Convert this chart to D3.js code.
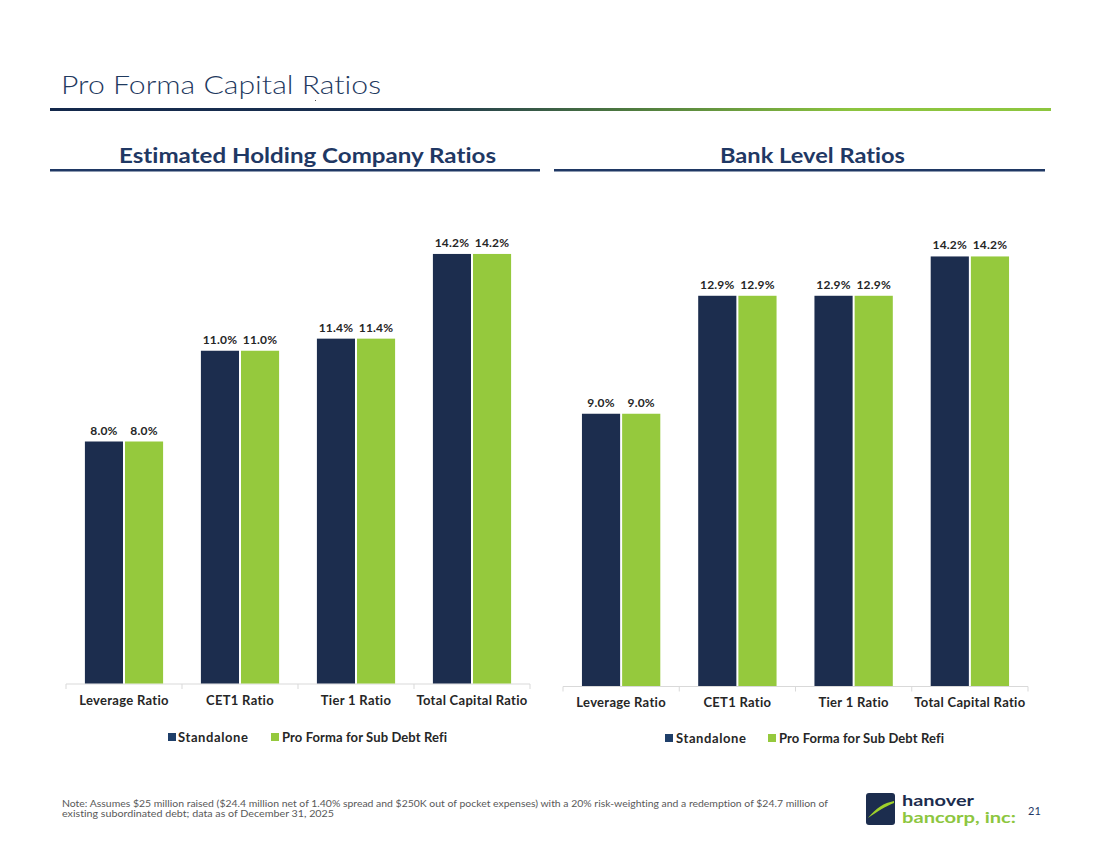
<!DOCTYPE html>
<html>
<head>
<meta charset="utf-8">
<script src="https://cdn.jsdelivr.net/npm/d3@7"></script>
<style>
  html, body { margin: 0; padding: 0; background: #ffffff; }
  svg { display: block; }
  text { font-family: Lato, "Open Sans", sans-serif; font-variant-ligatures: none; font-feature-settings: "liga" 0, "clig" 0; }
</style>
</head>
<body>
<svg id="chart" width="1100" height="849"></svg>
<script>
// ---------- data ----------
const categories = ["Leverage Ratio", "CET1 Ratio", "Tier 1 Ratio", "Total Capital Ratio"];
const seriesNames = ["Standalone", "Pro Forma for Sub Debt Refi"];
const holdingStandalone = [8.0, 11.0, 11.4, 14.2];
const holdingProForma = [8.0, 11.0, 11.4, 14.2];
const bankStandalone = [9.0, 12.9, 12.9, 14.2];
const bankProForma = [9.0, 12.9, 12.9, 14.2];
const pageTitle = "Pro Forma Capital Ratios";
const panelTitles = ["Estimated Holding Company Ratios", "Bank Level Ratios"];
const footnoteLines = [
  "Note: Assumes $25 million raised ($24.4 million net of 1.40% spread and $250K out of pocket expenses) with a 20% risk-weighting and a redemption of $24.7 million of",
  "existing subordinated debt; data as of December 31, 2025"
];
const pageNumber = "21";

// ---------- style ----------
const NAVY = "#1c2d4e";
const GREEN = "#95c93d";
const colors = [NAVY, GREEN];

const svg = d3.select("#chart");

// Title
svg.append("text")
  .attr("x", 61).attr("y", 94)
  .attr("font-size", 26).attr("font-weight", 300)
  .attr("fill", "#1f3a5f")
  .attr("textLength", 320).attr("lengthAdjust", "spacingAndGlyphs")
  .text(pageTitle);
svg.append("rect").attr("x", 315).attr("y", 100).attr("width", 1).attr("height", 1).attr("fill", "#555");

// gradient rule
const defs = svg.append("defs");
const grad = defs.append("linearGradient").attr("id", "rule").attr("x1", "0%").attr("x2", "100%");
grad.append("stop").attr("offset", "0%").attr("stop-color", "#13284b");
grad.append("stop").attr("offset", "36%").attr("stop-color", "#1a3050");
grad.append("stop").attr("offset", "58%").attr("stop-color", "#4e7a3f");
grad.append("stop").attr("offset", "80%").attr("stop-color", "#8cc43f");
grad.append("stop").attr("offset", "100%").attr("stop-color", "#8dc63f");
svg.append("rect").attr("x", 50).attr("y", 108).attr("width", 1001).attr("height", 3).attr("fill", "url(#rule)");

// panels
const panels = [
  { title: panelTitles[0], titleX: 119, titleW: 377, lineX0: 50, lineX1: 540,
    x0: 66, x1: 530, base: 683.5, axisY: 684, labelY: 706, legendY: 733,
    legendSq: [168, 271], legendTx: [178, 282],
    values: [holdingStandalone, holdingProForma] },
  { title: panelTitles[1], titleX: 720, titleW: 185, lineX0: 554, lineX1: 1045,
    x0: 563, x1: 1028, base: 686, axisY: 686.5, labelY: 708, legendY: 734,
    legendSq: [665, 768], legendTx: [676, 779],
    values: [bankStandalone, bankProForma] }
];

const PX_PER_PCT = 30.25;

panels.forEach(p => {
  const g = svg.append("g");
  // panel title
  g.append("text")
    .attr("x", p.titleX).attr("y", 163)
    .attr("font-size", 20).attr("font-weight", 700)
    .attr("fill", "#1f3864")
    .attr("textLength", p.titleW).attr("lengthAdjust", "spacingAndGlyphs")
    .text(p.title);
  g.append("rect").attr("x", p.lineX0).attr("y", 169).attr("width", p.lineX1 - p.lineX0).attr("height", 2.5).attr("fill", "#1f3864");

  const x = d3.scaleBand().domain(categories).range([p.x0, p.x1]).paddingInner(0).paddingOuter(0);
  const bw = x.bandwidth();
  const x1 = d3.scaleBand().domain(seriesNames).range([bw * 0.163, bw * 0.837]).paddingInner(0.05);
  const y = d3.scaleLinear().domain([0, 15]).range([p.base, p.base - 15 * PX_PER_PCT]);

  // axis line + boundary ticks
  const axisG = g.append("g").attr("transform", `translate(0,${p.axisY})`);
  axisG.append("line").attr("x1", p.x0).attr("x2", p.x1).attr("stroke", "#d9d9d9").attr("stroke-width", 1);
  const bounds = categories.map(c => x(c)).concat([p.x1]);
  axisG.selectAll("line.tk").data(bounds).join("line").attr("class", "tk")
    .attr("x1", d => d).attr("x2", d => d).attr("y1", 0).attr("y2", 5)
    .attr("stroke", "#d9d9d9");

  // category labels via d3 axis
  const ax = d3.axisBottom(x).tickSize(0).tickPadding(0);
  const labG = g.append("g").attr("transform", `translate(0,${p.labelY - 10})`).call(ax);
  labG.select(".domain").remove();
  labG.selectAll("text")
    .attr("font-family", "Lato, sans-serif")
    .attr("font-size", 13).attr("font-weight", 700)
    .attr("letter-spacing", 0.3)
    .attr("fill", "#262626").attr("dy", "0.71em")
    .attr("y", 0);

  // bars
  seriesNames.forEach((s, si) => {
    const vals = p.values[si];
    g.selectAll(null).data(categories).join("rect")
      .attr("x", c => x(c) + x1(s))
      .attr("y", (c, i) => y(vals[i]))
      .attr("width", x1.bandwidth())
      .attr("height", (c, i) => y(0) - y(vals[i]))
      .attr("fill", colors[si]);
    g.selectAll(null).data(categories).join("text")
      .attr("x", c => x(c) + x1(s) + x1.bandwidth() / 2)
      .attr("y", (c, i) => y(vals[i]) - 7)
      .attr("text-anchor", "middle")
      .attr("font-size", 12).attr("font-weight", 700)
      .attr("letter-spacing", 0.2)
      .attr("fill", "#262626")
      .text((c, i) => vals[i].toFixed(1) + "%");
  });

  // legend
  seriesNames.forEach((s, si) => {
    g.append("rect").attr("x", p.legendSq[si]).attr("y", p.legendY).attr("width", 8).attr("height", 8).attr("fill", si === 0 ? "#1f3f6a" : GREEN);
    g.append("text").attr("x", p.legendTx[si]).attr("y", p.legendY + 8.5)
      .attr("font-size", 13).attr("font-weight", 700).attr("fill", "#262626")
      .attr("textLength", si === 0 ? 70 : 165).attr("lengthAdjust", "spacing")
      .text(s);
  });
});

// footnote
footnoteLines.forEach((t, i) => {
  svg.append("text")
    .attr("x", 62).attr("y", 806.5 + i * 10)
    .attr("font-size", 9).attr("fill", "#595959")
    .attr("textLength", i === 0 ? 766 : 272).attr("lengthAdjust", "spacingAndGlyphs")
    .text(t);
});

// logo
const logo = svg.append("g");
logo.append("rect").attr("x", 866).attr("y", 793).attr("width", 29).attr("height", 32).attr("rx", 3).attr("fill", "#1c2d4e");
logo.append("path").attr("d", "M868,818 C876,808 884,803 894,801 L894,803 C886,806 878,811 868,818 Z").attr("fill", "#9fd02b");
logo.append("text").attr("x", 902).attr("y", 806).attr("font-size", 15).attr("font-weight", 700).attr("fill", "#1c2d4e")
  .attr("textLength", 72).attr("lengthAdjust", "spacingAndGlyphs").text("hanover");
logo.append("text").attr("x", 902).attr("y", 823).attr("font-size", 15).attr("font-weight", 700).attr("fill", "#8dc63f")
  .attr("textLength", 114).attr("lengthAdjust", "spacingAndGlyphs").text("bancorp, inc:");
svg.append("text").attr("x", 1028).attr("y", 815).attr("font-size", 11).attr("fill", "#1f3864").text(pageNumber);
</script>
</body>
</html>
